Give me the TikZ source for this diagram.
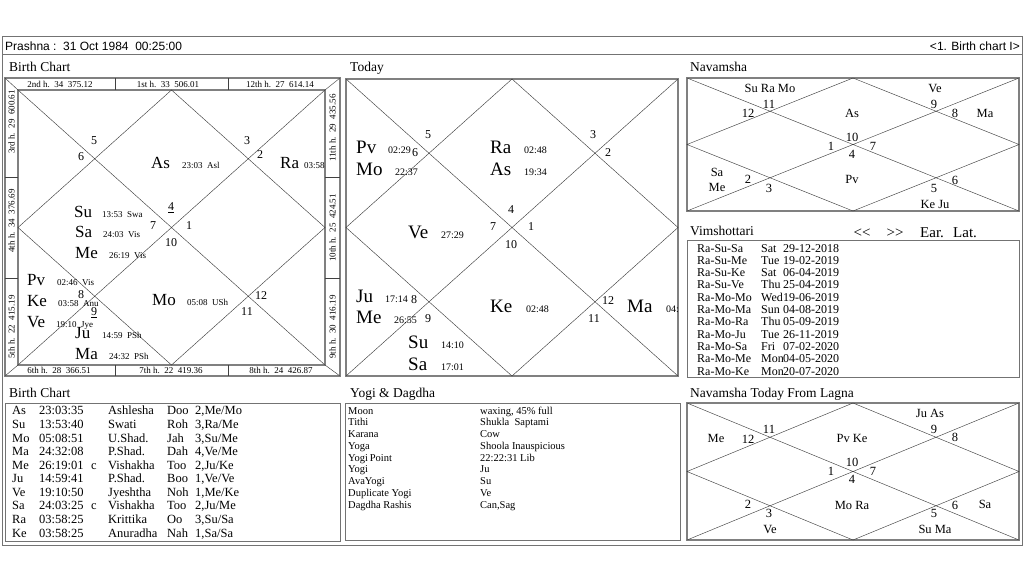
\documentclass[tikz,border=0pt]{standalone}
\usepackage{fontspec}
\setmainfont{Liberation Serif}
\newfontfamily\barfont{Liberation Sans}
\usepackage{tikz}

\begin{document}
\begin{tikzpicture}[
  x=1pt, y=-1pt,
  frame/.style={draw=black!50, line width=1.3pt},
  box/.style={draw=black!55, line width=0.9pt},
  grid/.style={draw=black!75, line width=0.45pt},
  title/.style={anchor=base west, inner sep=0pt, font=\fontsize{13.5}{14}\selectfont},
  planet/.style={anchor=base west, inner sep=0pt, font=\fontsize{17}{17}\selectfont},
  bigplanet/.style={planet, font=\fontsize{19}{19}\selectfont},
  deg/.style={anchor=base west, inner sep=0pt, font=\fontsize{9}{9}\selectfont},
  bigdeg/.style={deg, font=\fontsize{10}{10}\selectfont},
  house/.style={inner sep=0pt, font=\fontsize{12}{12}\selectfont},
  cusp/.style={inner sep=0pt, font=\fontsize{9}{9}\selectfont},
  navtext/.style={inner sep=0pt, font=\fontsize{12.5}{13}\selectfont},
  vrow/.style={anchor=base west, inner sep=0pt, font=\fontsize{12}{12}\selectfont},
  vhead/.style={inner sep=0pt, font=\fontsize{15}{15}\selectfont},
  cell/.style={anchor=base west, inner sep=0pt, font=\fontsize{12.5}{13}\selectfont},
  yogi/.style={anchor=base west, inner sep=0pt, font=\fontsize{10.5}{11}\selectfont},
  bar/.style={inner sep=0pt, font=\barfont\fontsize{12}{12}\selectfont}
]
\useasboundingbox (0,0) rectangle (1024,576);

% Window and top bar
\draw[box] (2,36) rectangle (1022,545);
\draw[box] (2,54) -- (1022,54);
\node[bar, anchor=base west] (bar-left) at (5,50.5) {Prashna :~~31 Oct 1984~~00:25:00};
\node[bar, anchor=base east] (bar-right) at (1020,50.5) {<1. Birth chart I>};

% Panel titles
\node[title] (t-birth) at (9,71) {Birth Chart};
\node[title] (t-today) at (350,71) {Today};
\node[title] (t-nav) at (690,71) {Navamsha};
\node[title] (t-vim) at (690,235) {Vimshottari};
\node[title] (t-table) at (9,397) {Birth Chart};
\node[title] (t-yogi) at (350,397) {Yogi \& Dagdha};
\node[title] (t-navtoday) at (690,397) {Navamsha Today From Lagna};

% Birth chart frame with cusp strips
\draw[frame] (5,78) rectangle (340,376);
\draw[frame] (18,90) rectangle (325,365);
\draw[grid] (5,78) -- (18,90) (340,78) -- (325,90) (5,376) -- (18,365) (340,376) -- (325,365);
\draw[grid] (115,78) -- (115,90) (228,78) -- (228,90) (115,365) -- (115,376) (228,365) -- (228,376)
  (5,177) -- (18,177) (5,278) -- (18,278) (325,177) -- (340,177) (325,278) -- (340,278);
\draw[grid] (18,90) -- (325,365) (325,90) -- (18,365)
  (171.5,90) -- (325,227.5) -- (171.5,365) -- (18,227.5) -- cycle;

\foreach \t/\x [count=\i] in {{2nd h.~~34~~375.12}/60, {1st h.~~33~~506.01}/168, {12th h.~~27~~614.14}/280}
  \node[cusp] (cu-top-\i) at (\x,84) {\t};
\foreach \t/\x [count=\i] in {{6th h.~~28~~366.51}/59, {7th h.~~22~~419.36}/171, {8th h.~~24~~426.87}/281}
  \node[cusp] (cu-bot-\i) at (\x,370.5) {\t};
\foreach \t/\y [count=\i] in {{3rd h.~~29~~600.61}/122, {4th h.~~34~~376.69}/221, {5th h.~~22~~415.19}/327}
  \node[cusp, rotate=90] (cu-left-\i) at (11.5,\y) {\t};
\foreach \t/\y [count=\i] in {{11th h.~~29~~435.56}/128, {10th h.~~25~~424.51}/228, {9th h.~~30~~416.19}/327}
  \node[cusp, rotate=90] (cu-right-\i) at (332.5,\y) {\t};

\foreach \h/\x/\y [count=\i] in {5/94/141, 6/81/157, 3/247/141, 2/260/155, \underline{4}/171/208,
    7/153/226, 1/189/226, 10/171/243, 8/81/295, \underline{9}/94/313, 12/261/296, 11/247/312}
  \node[house] (bc-h-\i) at (\x,\y) {\h};

\foreach \p/\x/\y/\dx/\d [count=\i] in {
    As/151/168/182/{23:03~~Asl}, Ra/280/168/304/{03:58},
    Su/74/217/102/{13:53~~Swa}, Sa/75/237/103/{24:03~~Vis},
    Me/75/258/109/{26:19~~Vis}, Pv/27/285/57/{02:46~~Vis},
    Ke/27/306/58/{03:58~~Anu}, Ve/27/327/56/{19:10~~Jye},
    Ju/75/338/102/{14:59~~PSh}, Ma/75/359/109/{24:32~~PSh},
    Mo/152/305/187/{05:08~~USh}} {
  \node[planet] (bc-pl-\i) at (\x,\y) {\p};
  \node[deg] (bc-dg-\i) at (\dx,\y) {\d};
}

% Today chart
\draw[frame] (346,79) rectangle (678,376);
\draw[grid] (346,79) -- (678,376) (678,79) -- (346,376)
  (512,79) -- (678,227.5) -- (512,376) -- (346,227.5) -- cycle;

\foreach \h/\x/\y [count=\i] in {5/428/135, 6/415/153, 3/593/135, 2/608/153, 4/511/210, 7/493/227,
    1/531/227, 10/511/245, 8/414/300, 9/428/319, 12/608/301, 11/594/319}
  \node[house] (td-h-\i) at (\x,\y) {\h};

\foreach \p/\x/\y/\dx/\d [count=\i] in {
    Pv/356/153/388/{02:29}, Mo/356/175/395/{22:37},
    Ra/490/153/524/{02:48}, As/490/175/524/{19:34},
    Ve/408/238/441/{27:29}, Ju/356/302/385/{17:14},
    Me/356/323/394/{26:55}, Su/408/348/441/{14:10},
    Sa/408/370/441/{17:01}, Ke/490/312/526/{02:48},
    Ma/627/312/666/{04:}} {
  \node[bigplanet] (td-pl-\i) at (\x,\y) {\p};
  \node[bigdeg] (td-dg-\i) at (\dx,\y) {\d};
}

% Navamsha chart
\draw[frame] (687,78) rectangle (1019,211);
\draw[grid] (687,78) -- (1019,211) (1019,78) -- (687,211)
  (853,78) -- (1019,144.5) -- (853,211) -- (687,144.5) -- cycle;

\foreach \t/\x/\y [count=\i] in {{Su Ra Mo}/770/88, 11/769/104, 12/748/113, As/852/113, Ve/935/88,
    9/934/104, 8/955/113, Ma/985/113, 10/852/137, 1/831/146, 7/873/146, 4/852/154,
    Sa/717/172, Me/717/187, 2/748/179, 3/769/188, Pv/852/179, 6/955/180, 5/934/188, {Ke Ju}/935/204}
  \node[navtext] (nv-\i) at (\x,\y) {\t};

% Vimshottari periods
\node[vhead, anchor=base] (vim-back) at (862,237) {<\kern0pt<};
\node[vhead, anchor=base] (vim-next) at (895,237) {>\kern0pt>};
\node[vhead, anchor=base west] (vim-ear) at (920,237) {Ear.};
\node[vhead, anchor=base west] (vim-lat) at (953,237) {Lat.};
\draw[box] (687,240) rectangle (1019,377);

\foreach \a/\d/\t [count=\i] in {Ra-Su-Sa/Sat/29-12-2018, Ra-Su-Me/Tue/19-02-2019,
    Ra-Su-Ke/Sat/06-04-2019, Ra-Su-Ve/Thu/25-04-2019, Ra-Mo-Mo/Wed/19-06-2019,
    Ra-Mo-Ma/Sun/04-08-2019, Ra-Mo-Ra/Thu/05-09-2019, Ra-Mo-Ju/Tue/26-11-2019,
    Ra-Mo-Sa/Fri/07-02-2020, Ra-Mo-Me/Mon/04-05-2020, Ra-Mo-Ke/Mon/20-07-2020} {
  \node[vrow] (vd-a-\i) at (697,239.7+12.3*\i) {\a};
  \node[vrow] (vd-d-\i) at (761,239.7+12.3*\i) {\d};
  \node[vrow] (vd-t-\i) at (783,239.7+12.3*\i) {\t};
}

% Birth chart table
\draw[box] (5,403) rectangle (340,541);
\foreach \p/\dg/\c/\nk/\snd/\pd [count=\i] in {
    As/23:03:35/{}/Ashlesha/Doo/{2,Me/Mo}, Su/13:53:40/{}/Swati/Roh/{3,Ra/Me},
    Mo/05:08:51/{}/U.Shad./Jah/{3,Su/Me}, Ma/24:32:08/{}/P.Shad./Dah/{4,Ve/Me},
    Me/26:19:01/c/Vishakha/Too/{2,Ju/Ke}, Ju/14:59:41/{}/P.Shad./Boo/{1,Ve/Ve},
    Ve/19:10:50/{}/Jyeshtha/Noh/{1,Me/Ke}, Sa/24:03:25/c/Vishakha/Too/{2,Ju/Me},
    Ra/03:58:25/{}/Krittika/Oo/{3,Su/Sa}, Ke/03:58:25/{}/Anuradha/Nah/{1,Sa/Sa}} {
  \node[cell] (bt-p-\i) at (12,401.4+13.56*\i) {\p};
  \node[cell] (bt-g-\i) at (39,401.4+13.56*\i) {\dg};
  \node[cell] (bt-c-\i) at (91,401.4+13.56*\i) {\c};
  \node[cell] (bt-n-\i) at (108,401.4+13.56*\i) {\nk};
  \node[cell] (bt-s-\i) at (167,401.4+13.56*\i) {\snd};
  \node[cell] (bt-q-\i) at (195,401.4+13.56*\i) {\pd};
}

% Yogi and Dagdha
\draw[box] (345,403) rectangle (680,540);
\foreach \k/\v [count=\i] in {Moon/{waxing, 45\% full}, Tithi/{Shukla~~Saptami}, Karana/Cow,
    Yoga/{Shoola Inauspicious}, {Yogi\,Point}/{22:22:31 Lib}, Yogi/Ju, AvaYogi/Su,
    {Duplicate Yogi}/Ve, {Dagdha Rashis}/{Can,Sag}} {
  \node[yogi] (yg-k-\i) at (348,402.25+11.75*\i) {\k};
  \node[yogi] (yg-v-\i) at (480,402.25+11.75*\i) {\v};
}

% Navamsha today from lagna
\draw[frame] (687,403) rectangle (1019,540);
\draw[grid] (687,403) -- (1019,540) (1019,403) -- (687,540)
  (853,403) -- (1019,471.5) -- (853,540) -- (687,471.5) -- cycle;

\foreach \t/\x/\y [count=\i] in {{Ju As}/930/413, 9/934/429, 8/955/437, Me/716/438, 12/748/439,
    11/769/429, {Pv Ke}/852/438, 10/852/462, 1/831/471, 7/873/471, 4/852/479, 2/748/504,
    3/769/513, {Mo Ra}/852/505, 6/955/505, Sa/985/504, 5/934/513, Ve/770/529, {Su Ma}/935/529}
  \node[navtext] (nt-\i) at (\x,\y) {\t};

\end{tikzpicture}
\end{document}
